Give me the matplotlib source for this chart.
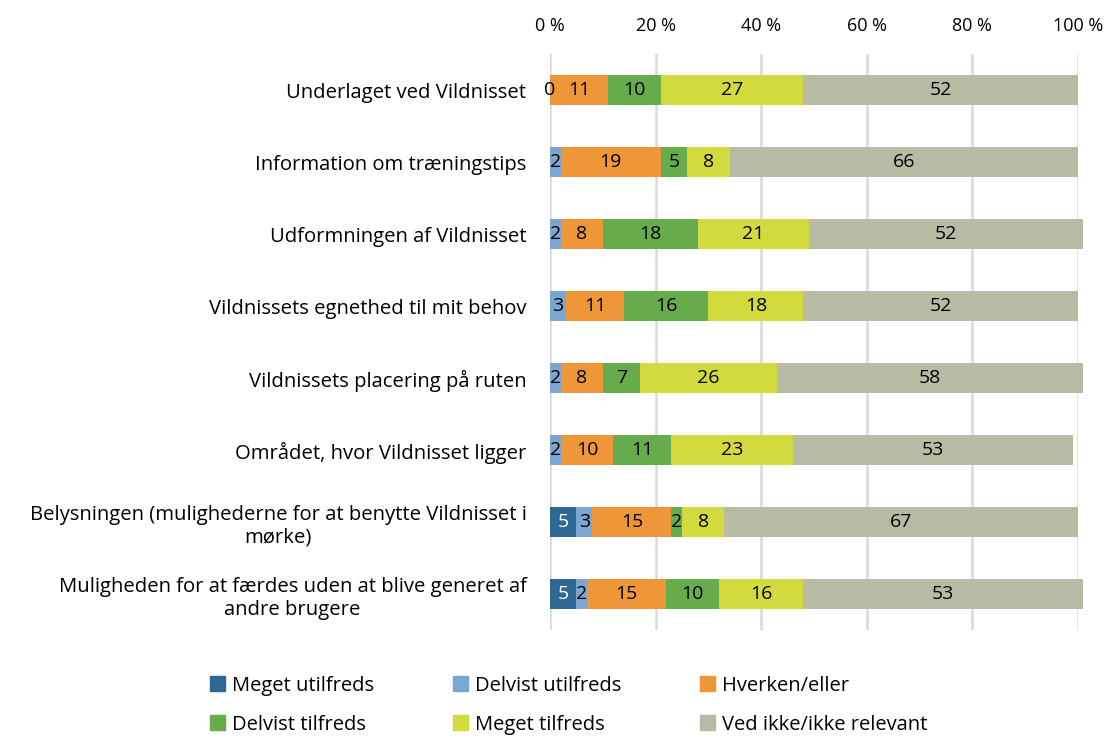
import matplotlib.pyplot as plt
from matplotlib.patches import Patch

plt.rcParams['font.family'] = ['Open Sans', 'DejaVu Sans']

categories = [
    "Underlaget ved Vildnisset",
    "Information om træningstips",
    "Udformningen af Vildnisset",
    "Vildnissets egnethed til mit behov",
    "Vildnissets placering på ruten",
    "Området, hvor Vildnisset ligger",
    "Belysningen (mulighederne for at benytte Vildnisset i\nmørke)",
    "Muligheden for at færdes uden at blive generet af\nandre brugere",
]
series = ["Meget utilfreds", "Delvist utilfreds", "Hverken/eller",
          "Delvist tilfreds", "Meget tilfreds", "Ved ikke/ikke relevant"]

meget_utilfreds = [None, None, None, None, None, None, 5, 5]
delvist_utilfreds = [0, 2, 2, 3, 2, 2, 3, 2]
hverken = [11, 19, 8, 11, 8, 10, 15, 15]
delvist_tilfreds = [10, 5, 18, 16, 7, 11, 2, 10]
meget_tilfreds = [27, 8, 21, 18, 26, 23, 8, 16]
ved_ikke = [52, 66, 52, 52, 58, 53, 67, 53]

values = [meget_utilfreds, delvist_utilfreds, hverken,
          delvist_tilfreds, meget_tilfreds, ved_ikke]
colors = ["#2F6993", "#7BA6D1", "#EF9639", "#67AC4C", "#D2DA3E", "#B8BBA3"]
text_colors = ["white", "black", "black", "black", "black", "black"]

fig = plt.figure(figsize=(11.15, 7.38), dpi=100)
ax = fig.add_axes([0.4933, 0.1463, 0.4735, 0.7805])

y = list(range(len(categories)))
left = [0.0] * len(categories)
for vals, col, tc in zip(values, colors, text_colors):
    w = [v if v is not None else 0 for v in vals]
    bars = ax.barh(y, w, left=left, height=0.41, color=col, zorder=3)
    for b in bars:
        b.set_clip_on(False)
    for i, v in enumerate(vals):
        if v is not None:
            ax.text(left[i] + v / 2, y[i], str(v), ha='center', va='center',
                    fontsize=14, color=tc, zorder=4)
    left = [l + wi for l, wi in zip(left, w)]

ax.set_xlim(0, 100)
ax.set_ylim(len(categories) - 0.5, -0.5)
ax.set_xticks([0, 20, 40, 60, 80, 100])
ax.set_xticklabels([f"{t} %" for t in [0, 20, 40, 60, 80, 100]], fontsize=13)
ax.xaxis.tick_top()
ax.tick_params(axis='x', length=0, pad=14)
ax.tick_params(axis='y', length=0, pad=17)
ax.set_yticks(y)
ax.set_yticklabels(categories, fontsize=14.6, multialignment='center')
ax.grid(axis='x', color='#D9D9D9', linewidth=1.8, zorder=0)
for s in ax.spines.values():
    s.set_visible(False)

handles = [Patch(color=c) for c in colors]
order = [0, 3, 1, 4, 2, 5]
fig.legend([handles[i] for i in order], [series[i] for i in order],
           ncol=3, loc='lower left', bbox_to_anchor=(0.172, -0.02),
           frameon=False, fontsize=14.5, handlelength=0.75, handleheight=0.75,
           handletextpad=0.35, columnspacing=3.9, labelspacing=0.95)

fig.savefig("out.png", dpi=100)
